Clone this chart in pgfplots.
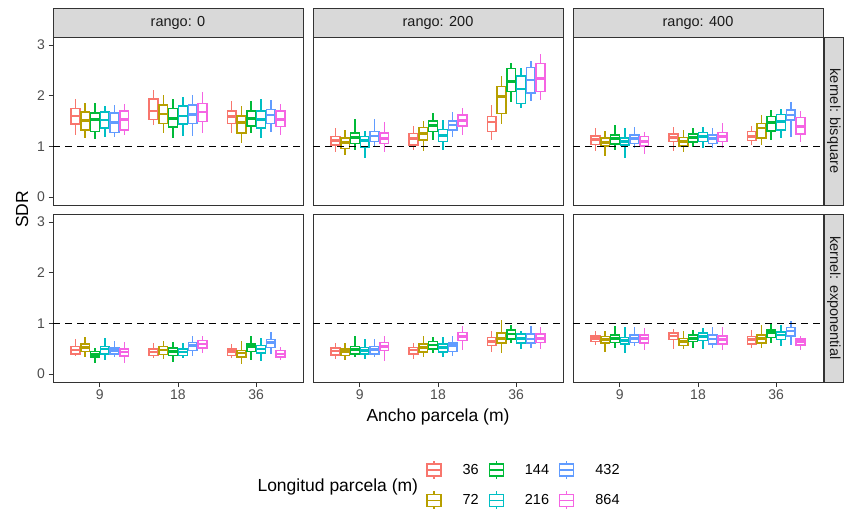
\documentclass[border=0pt]{standalone}
\usepackage{fontspec}
\setmainfont{Liberation Sans}
\usepackage{pgfplots}
\usepackage{pgfplotstable}
\pgfplotsset{compat=1.18}
\usepgfplotslibrary{statistics}

\definecolor{c1}{HTML}{F8766D}
\definecolor{c2}{HTML}{B79F00}
\definecolor{c3}{HTML}{00BA38}
\definecolor{c4}{HTML}{00BFC4}
\definecolor{c5}{HTML}{619CFF}
\definecolor{c6}{HTML}{F564E3}
\definecolor{frame}{HTML}{333333}
\definecolor{stripfill}{HTML}{D9D9D9}
\definecolor{ticktext}{HTML}{4D4D4D}
\definecolor{striptext}{HTML}{1A1A1A}

% rango 0, kernel bisquare (rows: x=9 six lengths, x=18, x=36)
\pgfplotstableread{
lw q1 med q3 uw
1.22 1.44 1.60 1.75 1.93
1.16 1.32 1.51 1.68 1.85
1.14 1.29 1.53 1.66 1.85
1.19 1.36 1.52 1.68 1.80
1.19 1.27 1.47 1.66 1.82
1.22 1.32 1.53 1.70 1.84
1.42 1.53 1.70 1.93 2.11
1.26 1.45 1.64 1.82 2.01
1.16 1.38 1.55 1.75 1.93
1.20 1.44 1.60 1.80 1.97
1.20 1.45 1.63 1.82 2.01
1.26 1.49 1.68 1.85 2.08
1.27 1.45 1.59 1.70 1.90
1.07 1.26 1.47 1.60 1.80
1.26 1.40 1.55 1.70 1.90
1.16 1.36 1.53 1.70 1.93
1.29 1.45 1.62 1.73 1.91
1.22 1.39 1.53 1.70 1.84
}\Taa
% rango 200, kernel bisquare
\pgfplotstableread{
lw q1 med q3 uw
0.88 1.03 1.11 1.19 1.37
0.83 0.96 1.07 1.16 1.32
0.93 1.06 1.17 1.26 1.53
0.77 0.99 1.12 1.19 1.30
0.98 1.09 1.20 1.29 1.53
0.89 1.06 1.16 1.26 1.48
0.93 1.03 1.15 1.25 1.40
0.90 1.12 1.25 1.37 1.50
1.13 1.29 1.41 1.50 1.66
0.93 1.09 1.21 1.33 1.52
1.18 1.32 1.42 1.50 1.68
1.22 1.40 1.51 1.62 1.75
1.13 1.29 1.48 1.59 1.82
1.45 1.65 1.98 2.18 2.39
1.88 2.08 2.28 2.54 2.64
1.75 1.85 2.13 2.39 2.54
1.90 2.05 2.31 2.56 2.69
1.91 2.08 2.34 2.64 2.82
}\Tab
% rango 400, kernel bisquare
\pgfplotstableread{
lw q1 med q3 uw
0.91 1.04 1.14 1.20 1.36
0.80 1.01 1.08 1.16 1.30
0.93 1.05 1.16 1.22 1.42
0.76 1.03 1.09 1.16 1.36
0.96 1.06 1.16 1.22 1.39
0.84 1.01 1.09 1.19 1.29
0.91 1.09 1.17 1.24 1.39
0.89 1.01 1.09 1.17 1.32
0.99 1.08 1.17 1.24 1.36
0.96 1.09 1.19 1.27 1.39
0.96 1.06 1.16 1.22 1.36
0.96 1.09 1.19 1.27 1.47
1.03 1.11 1.19 1.29 1.41
1.03 1.16 1.36 1.45 1.61
1.13 1.30 1.47 1.59 1.72
1.16 1.32 1.49 1.63 1.74
1.19 1.52 1.62 1.72 1.87
1.09 1.24 1.39 1.57 1.70
}\Tac
% rango 0, kernel exponential
\pgfplotstableread{
lw q1 med q3 uw
0.35 0.39 0.47 0.54 0.69
0.33 0.44 0.52 0.59 0.73
0.22 0.33 0.38 0.44 0.52
0.28 0.39 0.49 0.54 0.70
0.33 0.39 0.46 0.51 0.66
0.22 0.35 0.43 0.49 0.64
0.31 0.36 0.43 0.49 0.61
0.30 0.38 0.47 0.54 0.66
0.24 0.36 0.44 0.51 0.64
0.31 0.36 0.43 0.49 0.61
0.36 0.46 0.56 0.62 0.75
0.41 0.51 0.59 0.66 0.75
0.31 0.36 0.44 0.49 0.59
0.20 0.33 0.41 0.46 0.66
0.28 0.44 0.54 0.59 0.74
0.26 0.41 0.49 0.56 0.70
0.39 0.52 0.62 0.68 0.83
0.28 0.33 0.39 0.46 0.54
}\Tba
% rango 200, kernel exponential
\pgfplotstableread{
lw q1 med q3 uw
0.30 0.37 0.45 0.51 0.62
0.28 0.36 0.44 0.49 0.62
0.33 0.39 0.48 0.54 0.75
0.30 0.39 0.46 0.52 0.68
0.33 0.39 0.48 0.54 0.69
0.26 0.46 0.54 0.62 0.75
0.30 0.39 0.47 0.52 0.62
0.33 0.43 0.52 0.59 0.75
0.41 0.49 0.57 0.64 0.72
0.33 0.43 0.52 0.59 0.72
0.36 0.44 0.56 0.61 0.75
0.48 0.66 0.74 0.82 0.95
0.44 0.56 0.64 0.72 0.85
0.41 0.61 0.70 0.81 1.07
0.62 0.69 0.79 0.87 0.96
0.49 0.61 0.70 0.79 0.85
0.52 0.61 0.69 0.79 0.94
0.49 0.62 0.70 0.79 0.92
}\Tbb
% rango 400, kernel exponential
\pgfplotstableread{
lw q1 med q3 uw
0.57 0.64 0.70 0.75 0.85
0.44 0.61 0.68 0.74 0.85
0.52 0.62 0.70 0.77 0.95
0.41 0.59 0.66 0.72 0.92
0.56 0.62 0.70 0.77 0.92
0.48 0.61 0.70 0.77 0.90
0.49 0.68 0.75 0.81 0.89
0.49 0.56 0.64 0.70 0.85
0.52 0.64 0.70 0.77 0.87
0.49 0.66 0.74 0.81 0.90
0.51 0.59 0.69 0.77 0.92
0.48 0.59 0.68 0.75 0.92
0.51 0.59 0.68 0.74 0.87
0.51 0.61 0.70 0.77 0.96
0.61 0.72 0.82 0.87 0.98
0.56 0.68 0.77 0.83 0.96
0.57 0.75 0.85 0.92 1.05
0.48 0.57 0.64 0.69 0.75
}\Tbc

\pgfplotsset{
  panel/.style={
    scale only axis, width=250pt, height=168pt,
    xmin=0.4, xmax=3.6, ymin=-0.16, ymax=3.16,
    axis line style={draw=frame, line width=0.8pt},
    tick style={draw=frame, line width=0.8pt},
    tick align=outside, major tick length=4.5pt, tick pos=left,
    xtick=\empty, ytick=\empty,
    /pgf/number format/assume math mode=true,
    ticklabel style={font=\fontsize{14}{16}\selectfont, text=ticktext},
    cycle list={{c1},{c2},{c3},{c4},{c5},{c6}},
    boxplot/draw direction=y,
    boxplot/box extend=0.1125,
    boxplot/whisker extend=0,
    boxplot/every box/.style={line width=1.5pt},
    boxplot/every whisker/.style={line width=1.5pt},
    boxplot/every median/.style={line width=2.6pt},
  },
  ylab/.style={ytick={0,1,2,3}, yticklabels={0,1,2,3}},
  xlab/.style={xtick={1,2,3}, xticklabels={9,18,36}},
}

% one box from row #2 of table #1
\newcommand{\onebox}[2]{%
  \pgfplotstablegetelem{#2}{lw}\of#1\let\vlw\pgfplotsretval
  \pgfplotstablegetelem{#2}{q1}\of#1\let\vqa\pgfplotsretval
  \pgfplotstablegetelem{#2}{med}\of#1\let\vmed\pgfplotsretval
  \pgfplotstablegetelem{#2}{q3}\of#1\let\vqb\pgfplotsretval
  \pgfplotstablegetelem{#2}{uw}\of#1\let\vuw\pgfplotsretval
  \pgfmathsetmacro\vpos{floor(#2/6)+1+(mod(#2,6)-2.5)*0.125}%
  \edef\temp{\noexpand\addplot+[line width=1.5pt, boxplot prepared={draw direction=y, draw position=\vpos,
      lower whisker=\vlw, lower quartile=\vqa, median=\vmed,
      upper quartile=\vqb, upper whisker=\vuw}] coordinates {};}%
  \temp
}
\newcommand{\boxes}[1]{%
  \pgfplotsinvokeforeach{0,...,17}{\onebox{#1}{##1}}
  \addplot[black, line width=1.5pt, dash pattern=on 6.5pt off 5.5pt] coordinates {(0.4,1) (3.6,1)};
}

\begin{document}
\begin{tikzpicture}
\useasboundingbox (0pt,0pt) rectangle (844pt,509pt);

% top row
\begin{axis}[panel, ylab, at={(53pt,304pt)}, anchor=south west]
\boxes{\Taa}
\end{axis}
\begin{axis}[panel, at={(313pt,304pt)}, anchor=south west]
\boxes{\Tab}
\end{axis}
\begin{axis}[panel, at={(573pt,304pt)}, anchor=south west]
\boxes{\Tac}
\end{axis}
% bottom row
\begin{axis}[panel, ylab, xlab, at={(53pt,127pt)}, anchor=south west]
\boxes{\Tba}
\end{axis}
\begin{axis}[panel, xlab, at={(313pt,127pt)}, anchor=south west]
\boxes{\Tbb}
\end{axis}
\begin{axis}[panel, xlab, at={(573pt,127pt)}, anchor=south west]
\boxes{\Tbc}
\end{axis}

% legend
\begin{axis}[hide axis, scale only axis, width=10pt, height=10pt,
  at={(426pt,49pt)}, anchor=north west,
  xmin=0, xmax=1, ymin=0, ymax=1,
  legend columns=3,
  legend style={at={(0,1)}, anchor=north west, draw=none, fill=none,
    inner sep=0pt, row sep=11pt,
    font=\fontsize{14.5}{16}\selectfont,
    /tikz/every odd column/.append style={column sep=19pt},
    /tikz/every even column/.append style={column sep=8pt}},
  legend cell align=left,
  legend image code/.code={
    \draw[#1] (0pt,-6pt) rectangle (14pt,6pt);
    \draw[#1] (0pt,0pt) -- (14pt,0pt);
    \draw[#1] (7pt,6pt) -- (7pt,9pt);
    \draw[#1] (7pt,-6pt) -- (7pt,-9pt);
  }]
\addlegendimage{c1, line width=1.3pt}\addlegendentry{36}
\addlegendimage{c3, line width=1.3pt}\addlegendentry{144}
\addlegendimage{c5, line width=1.3pt}\addlegendentry{432}
\addlegendimage{c2, line width=1.3pt}\addlegendentry{72}
\addlegendimage{c4, line width=1.3pt}\addlegendentry{216}
\addlegendimage{c6, line width=1.3pt}\addlegendentry{864}
\end{axis}
\node[anchor=west, font=\fontsize{17.5}{20}\selectfont] at (254pt,22pt) {Longitud parcela (m)};

% strips
\begin{scope}[draw=frame, line width=0.8pt]
\draw[fill=stripfill] (53pt,472pt) rectangle (303pt,501pt);
\draw[fill=stripfill] (313pt,472pt) rectangle (563pt,501pt);
\draw[fill=stripfill] (573pt,472pt) rectangle (823pt,501pt);
\draw[fill=stripfill] (824.5pt,304pt) rectangle (843pt,472pt);
\draw[fill=stripfill] (824.5pt,127pt) rectangle (843pt,295pt);
\end{scope}
\begin{scope}[every node/.style={font=\fontsize{14.5}{16}\selectfont, text=striptext}]
\node at (178pt,486.5pt) {rango: 0};
\node at (438pt,486.5pt) {rango: 200};
\node at (698pt,486.5pt) {rango: 400};
\node[rotate=-90] at (833.75pt,388pt) {kernel: bisquare};
\node[rotate=-90] at (833.75pt,211pt) {kernel: exponential};
\end{scope}

% axis titles
\node[rotate=90, font=\fontsize{17.5}{20}\selectfont] at (22pt,299.5pt) {SDR};
\node[font=\fontsize{17.5}{20}\selectfont] at (438pt,92pt) {Ancho parcela (m)};
\end{tikzpicture}
\end{document}
